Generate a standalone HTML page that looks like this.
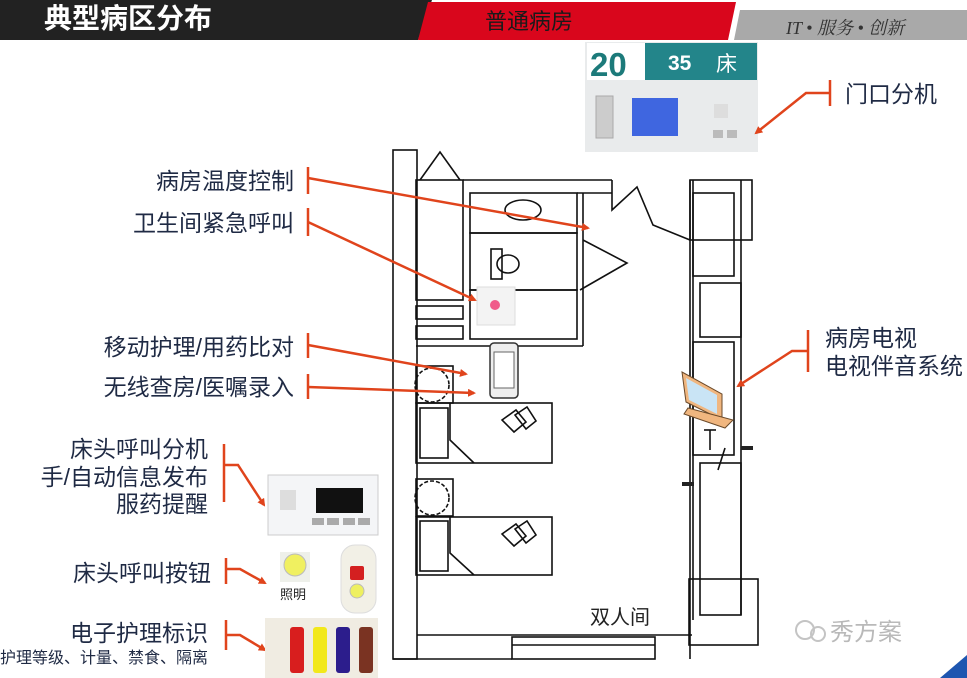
<!DOCTYPE html>
<html><head><meta charset="utf-8"><style>
html,body{margin:0;padding:0;background:#fff;}
svg{display:block;font-family:"Liberation Sans","Noto Sans CJK SC",sans-serif;}
</style></head><body>
<svg width="967" height="678" viewBox="0 0 967 678" xmlns="http://www.w3.org/2000/svg">
<defs>
<marker id="ar" markerWidth="8" markerHeight="8" refX="6" refY="4" orient="auto" markerUnits="userSpaceOnUse"><path d="M0,0 L8,4 L0,8 z" fill="#e0441c"/></marker>
</defs>
<polygon points="0,0 432,0 418,40 0,40" fill="#222"/>
<polygon points="428,2 736,2 728,40 418,40" fill="#d9061c"/>
<polygon points="740,10 967,10 967,40 734,40" fill="#a9a9a9"/>
<text x="44" y="28" font-size="28" fill="#fff" font-weight="bold">典型病区分布</text>
<text x="485" y="29" font-size="22" fill="#1a1a1a">普通病房</text>
<text x="786" y="34" font-size="18" fill="#333" font-style="italic" font-family="Liberation Serif,'Noto Serif CJK SC',serif">IT • 服务 • 创新</text>

<rect x="585" y="42" width="173" height="110" fill="#e9ebec"/>
<rect x="587" y="43" width="58" height="37" fill="#fff"/>
<text x="590" y="76" font-size="33" font-weight="bold" fill="#1c7a7a">20</text>
<rect x="645" y="43" width="112" height="37" fill="#23858a"/>
<text x="668" y="70" font-size="21" font-weight="bold" fill="#fff">35</text>
<text x="716" y="71" font-size="21" fill="#fff">床</text>
<rect x="596" y="96" width="17" height="42" fill="#ccc" stroke="#aaa"/>
<rect x="632" y="98" width="46" height="38" fill="#3f66e0"/>
<rect x="714" y="104" width="14" height="14" fill="#ddd"/>
<rect x="713" y="130" width="10" height="8" fill="#bbb"/><rect x="727" y="130" width="10" height="8" fill="#bbb"/>

<g fill="none" stroke="#111" stroke-width="1.6">
<rect x="393" y="150" width="24" height="509"/>
<line x1="393" y1="659" x2="512" y2="659"/>
<rect x="512" y="637" width="143" height="22"/>
<line x1="512" y1="645" x2="655" y2="645"/>
<line x1="417" y1="635" x2="692" y2="635"/>
<polyline points="420,180 440,152 460,180"/>
<rect x="416" y="180" width="47" height="120"/>
<rect x="416" y="306" width="47" height="13"/>
<rect x="416" y="326" width="47" height="13"/>
<line x1="463" y1="180" x2="612" y2="180"/>
<rect x="470" y="193" width="107" height="40"/>
<rect x="470" y="233" width="107" height="57"/>
<rect x="470" y="290" width="107" height="49"/>
<line x1="583" y1="193" x2="583" y2="346"/>
<line x1="577" y1="193" x2="612" y2="193"/>
<line x1="416" y1="346" x2="583" y2="346"/>
<polyline points="583,240 627,263 580,290"/>
<polyline points="612,180 612,210 637,187 653,225 690,240"/>
<line x1="690" y1="180" x2="690" y2="659"/>
<line x1="693" y1="180" x2="693" y2="620"/>
<rect x="690" y="180" width="62" height="60"/>
<line x1="741" y1="180" x2="741" y2="615"/>
<rect x="693" y="193" width="41" height="83"/>
<rect x="700" y="283" width="41" height="54"/>
<rect x="693" y="342" width="41" height="113"/>
<rect x="700" y="463" width="41" height="152"/>
<rect x="689" y="579" width="69" height="66"/>
<line x1="710" y1="430" x2="710" y2="450"/><line x1="704" y1="430" x2="716" y2="430"/>
<line x1="718" y1="470" x2="725" y2="448"/>
<rect x="416" y="403" width="136" height="60"/>
<rect x="416" y="517" width="136" height="58"/>
<rect x="420" y="408" width="28" height="50"/><rect x="420" y="521" width="28" height="50"/>
<polyline points="450,403 450,440 474,463"/><polyline points="450,517 450,553 474,575"/>
<path d="M502,420 l14,-10 l10,12 l-12,10 z M515,415 l12,-8 l9,14 l-10,8 z"/>
<path d="M502,534 l14,-10 l10,12 l-12,10 z M515,529 l12,-8 l9,14 l-10,8 z"/>
<rect x="416" y="366" width="37" height="37"/><rect x="416" y="479" width="37" height="37"/>
<circle cx="432" cy="385" r="17" stroke-dasharray="4 2"/><circle cx="432" cy="498" r="17" stroke-dasharray="4 2"/>
<ellipse cx="523" cy="210" rx="18" ry="10"/>
<ellipse cx="508" cy="264" rx="11" ry="9"/><rect x="491" y="249" width="11" height="30"/>
</g>
<rect x="682" y="482" width="12" height="4" fill="#222"/><rect x="741" y="446" width="12" height="4" fill="#222"/>
<text x="590" y="624" font-size="20" fill="#222">双人间</text>
<rect x="477" y="287" width="38" height="38" fill="#f3f3f3" stroke="#ddd"/>
<circle cx="495" cy="305" r="5" fill="#f05a8a"/>
<rect x="490" y="343" width="28" height="55" rx="4" fill="#eee" stroke="#333" stroke-width="1.5"/>
<rect x="494" y="352" width="20" height="36" fill="#fff" stroke="#666"/>
<polygon points="682,372 722,394 722,420 686,402" fill="#f0b67f" stroke="#6b4a2a"/>
<polygon points="686,378 717,395 717,414 689,400" fill="#c9e4f5"/>
<polygon points="688,408 733,420 725,428 684,414" fill="#f0b67f" stroke="#6b4a2a"/>

<g stroke="#e0441c" stroke-width="2.5" fill="none">
<line x1="308" y1="167" x2="308" y2="194"/><polyline points="308,178 588,228" marker-end="url(#ar)"/>
<line x1="308" y1="208" x2="308" y2="236"/><polyline points="308,222 475,300" marker-end="url(#ar)"/>
<line x1="308" y1="333" x2="308" y2="358"/><polyline points="308,345 466,374" marker-end="url(#ar)"/>
<line x1="308" y1="374" x2="308" y2="399"/><polyline points="308,387 474,393" marker-end="url(#ar)"/>
<line x1="830" y1="80" x2="830" y2="106"/><polyline points="830,93 806,93 756,133" marker-end="url(#ar)"/>
<line x1="808" y1="330" x2="808" y2="372"/><polyline points="808,351 792,351 738,386" marker-end="url(#ar)"/>
<line x1="224" y1="444" x2="224" y2="502"/><polyline points="224,465 238,465 264,505" marker-end="url(#ar)"/>
<line x1="226" y1="558" x2="226" y2="584"/><polyline points="226,569 240,569 265,583" marker-end="url(#ar)"/>
<line x1="226" y1="620" x2="226" y2="650"/><polyline points="226,635 240,635 265,650" marker-end="url(#ar)"/>
</g>

<g font-size="23" fill="#1f2a44" text-anchor="end">
<text x="294" y="189">病房温度控制</text>
<text x="294" y="231">卫生间紧急呼叫</text>
<text x="294" y="355">移动护理/用药比对</text>
<text x="294" y="395">无线查房/医嘱录入</text>
<text x="208" y="457">床头呼叫分机</text>
<text x="208" y="485">手/自动信息发布</text>
<text x="208" y="512">服药提醒</text>
<text x="211" y="581">床头呼叫按钮</text>
<text x="208" y="641">电子护理标识</text>
<text x="208" y="663" font-size="16">护理等级、计量、禁食、隔离</text>
</g>
<g font-size="23" fill="#1f2a44">
<text x="845" y="102">门口分机</text>
<text x="825" y="346">病房电视</text>
<text x="825" y="374">电视伴音系统</text>
</g>

<rect x="268" y="475" width="110" height="60" fill="#f4f5f7" stroke="#ccc"/>
<rect x="316" y="488" width="47" height="25" fill="#111"/>
<rect x="280" y="490" width="16" height="20" fill="#ddd"/>
<rect x="312" y="518" width="12" height="7" fill="#aaa"/><rect x="327" y="518" width="12" height="7" fill="#aaa"/>
<rect x="343" y="518" width="12" height="7" fill="#aaa"/><rect x="358" y="518" width="12" height="7" fill="#aaa"/>
<rect x="280" y="552" width="30" height="30" fill="#eef0ea"/>
<circle cx="295" cy="565" r="11" fill="#f0f060" stroke="#bbb"/>
<text x="280" y="599" font-size="13" fill="#222">照明</text>
<rect x="341" y="545" width="35" height="68" rx="14" fill="#f2f0e6" stroke="#ddd"/>
<rect x="350" y="566" width="14" height="14" rx="2" fill="#d42020"/>
<circle cx="357" cy="591" r="7" fill="#eef060" stroke="#bbb"/>
<rect x="265" y="618" width="113" height="60" fill="#f0ece2"/>
<rect x="290" y="627" width="14" height="46" rx="3" fill="#d81e1e"/>
<rect x="313" y="627" width="14" height="46" rx="3" fill="#f2e81a"/>
<rect x="336" y="627" width="14" height="46" rx="3" fill="#2c1d8c"/>
<rect x="359" y="627" width="14" height="46" rx="3" fill="#7a3322"/>

<text x="830" y="640" font-size="24" fill="#b9b9b9">秀方案</text>
<circle cx="805" cy="630" r="9" fill="none" stroke="#c4c4c4" stroke-width="2"/>
<circle cx="818" cy="634" r="7" fill="none" stroke="#c4c4c4" stroke-width="2"/>
<polygon points="940,678 967,655 967,678" fill="#1e56b0"/>
</svg>
</body></html>
